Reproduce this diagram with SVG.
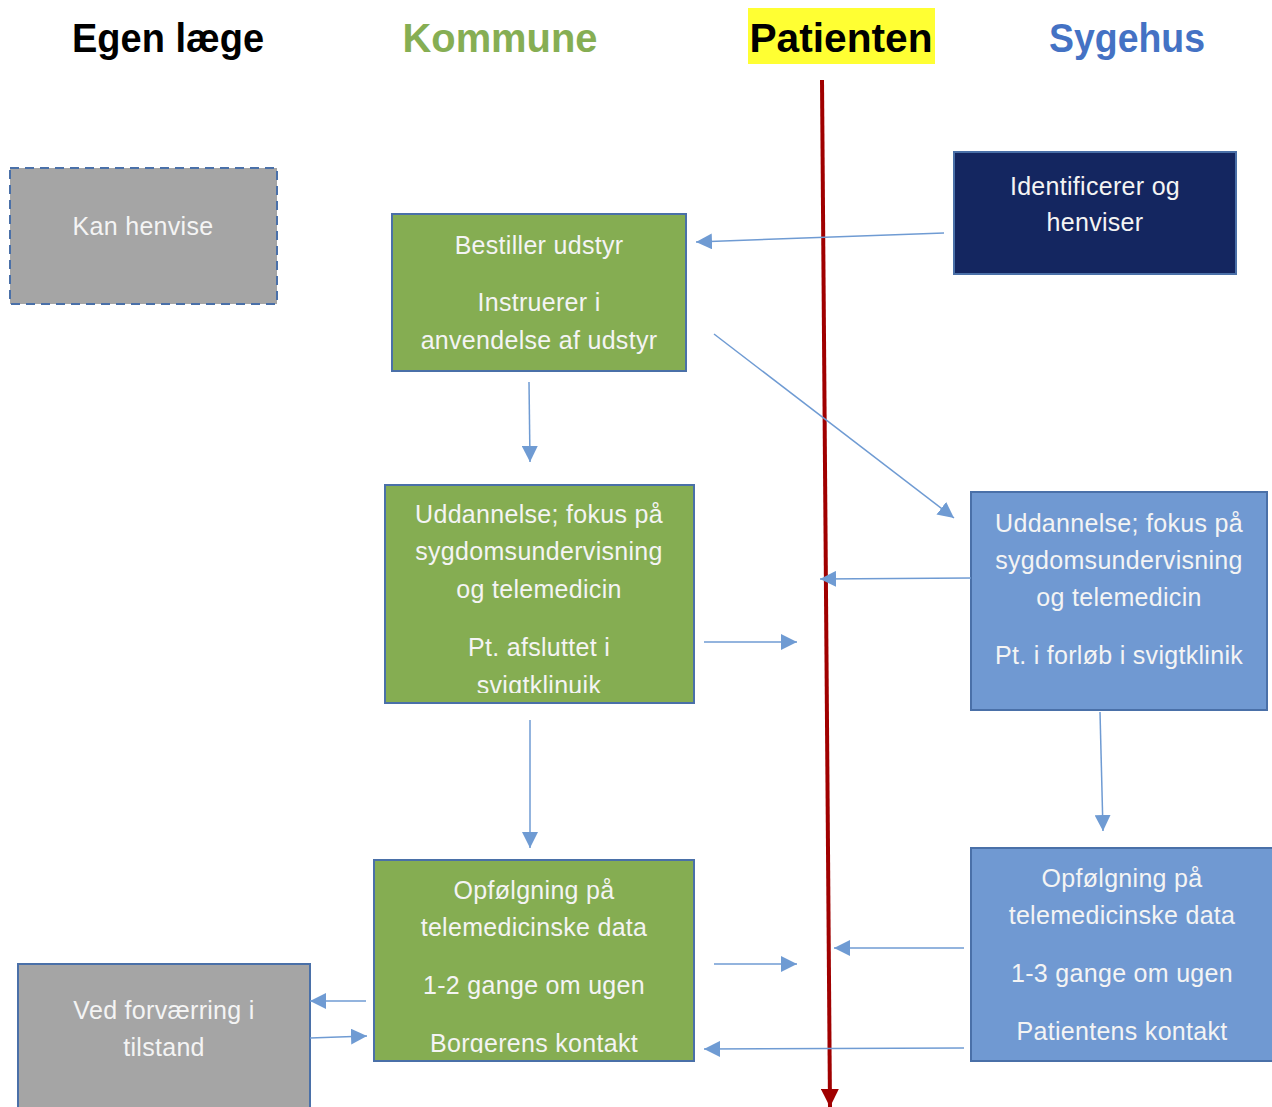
<svg xmlns="http://www.w3.org/2000/svg" width="1272" height="1107" viewBox="0 0 1272 1107">
<style>
.h{font-family:"Liberation Sans",Arial,sans-serif;font-weight:bold;font-size:40px;text-anchor:middle}
.t{font-family:"Liberation Sans",Arial,sans-serif;font-size:25px;letter-spacing:0.3px;fill:#F4F4F4;text-anchor:middle}
.g{fill:#85AD52;stroke:#4A70A8;stroke-width:2}
.b{fill:#7099D2;stroke:#4A70A8;stroke-width:2}
.n{fill:#142660;stroke:#4A70A8;stroke-width:2}
.gr{fill:#A5A5A5;stroke:#4A70A8;stroke-width:2}
.c{stroke:#6F9BD3;stroke-width:1.5;fill:none;marker-end:url(#ah)}
</style>
<defs>
<marker id="ah" markerUnits="userSpaceOnUse" markerWidth="18" markerHeight="16" refX="16" refY="8" orient="auto">
<path d="M0,0 L16,8 L0,16 Z" fill="#6F9BD3"/>
</marker>
<marker id="rh" markerUnits="userSpaceOnUse" markerWidth="20" markerHeight="18" refX="18" refY="9" orient="auto">
<path d="M0,0 L18,9 L0,18 Z" fill="#A00000"/>
</marker>
<clipPath id="c4"><rect x="386" y="486" width="307" height="207"/></clipPath>
<clipPath id="c6"><rect x="375" y="861" width="318" height="192"/></clipPath>
</defs>
<rect width="1272" height="1107" fill="#fff"/>
<g id="headers">
<text class="h" x="168" y="52" fill="#000" textLength="192" lengthAdjust="spacingAndGlyphs">Egen læge</text>
<text class="h" x="500" y="52" fill="#86AE53" textLength="195" lengthAdjust="spacingAndGlyphs">Kommune</text>
<rect x="748" y="8" width="187" height="56" fill="#FFFF33"/>
<text class="h" x="841" y="52" fill="#000" textLength="183" lengthAdjust="spacingAndGlyphs">Patienten</text>
<text class="h" x="1127" y="52" fill="#4472C4" textLength="156" lengthAdjust="spacingAndGlyphs">Sygehus</text>
</g>
<g id="timeline">
<line x1="822" y1="80" x2="830" y2="1107" stroke="#A00000" stroke-width="4" marker-end="url(#rh)"/>
</g>
<g id="n1">
<rect class="gr" x="10" y="168" width="267" height="136" stroke-dasharray="9,6"/>
<text class="t" x="143" y="235">Kan henvise</text>
</g>
<g id="n2">
<rect class="g" x="392" y="214" width="294" height="157"/>
<text class="t" x="539" y="254">Bestiller udstyr</text>
<text class="t" x="539" y="311">Instruerer i</text>
<text class="t" x="539" y="349">anvendelse af udstyr</text>
</g>
<g id="n3">
<rect class="n" x="954" y="152" width="282" height="122"/>
<text class="t" x="1095" y="195">Identificerer og</text>
<text class="t" x="1095" y="231">henviser</text>
</g>
<g id="n4">
<rect class="g" x="385" y="485" width="309" height="218"/>
<g clip-path="url(#c4)">
<text class="t" x="539" y="523">Uddannelse; fokus på</text>
<text class="t" x="539" y="560">sygdomsundervisning</text>
<text class="t" x="539" y="598">og telemedicin</text>
<text class="t" x="539" y="656">Pt. afsluttet i</text>
<text class="t" x="539" y="694">svigtklinuik</text>
</g>
</g>
<g id="n5">
<rect class="b" x="971" y="492" width="296" height="218"/>
<text class="t" x="1119" y="532">Uddannelse; fokus på</text>
<text class="t" x="1119" y="569">sygdomsundervisning</text>
<text class="t" x="1119" y="606">og telemedicin</text>
<text class="t" x="1119" y="664">Pt. i forløb i svigtklinik</text>
</g>
<g id="n6">
<rect class="g" x="374" y="860" width="320" height="201"/>
<g clip-path="url(#c6)">
<text class="t" x="534" y="899">Opfølgning på</text>
<text class="t" x="534" y="936">telemedicinske data</text>
<text class="t" x="534" y="994">1-2 gange om ugen</text>
<text class="t" x="534" y="1052">Borgerens kontakt</text>
</g>
</g>
<g id="n7">
<rect class="b" x="971" y="848" width="303" height="213"/>
<text class="t" x="1122" y="887">Opfølgning på</text>
<text class="t" x="1122" y="924">telemedicinske data</text>
<text class="t" x="1122" y="982">1-3 gange om ugen</text>
<text class="t" x="1122" y="1040">Patientens kontakt</text>
</g>
<g id="n8">
<rect class="gr" x="18" y="964" width="292" height="150"/>
<text class="t" x="164" y="1019">Ved forværring i</text>
<text class="t" x="164" y="1056">tilstand</text>
</g>
<g id="connectors">
<line class="c" x1="944" y1="233" x2="696" y2="242"/>
<line class="c" x1="714" y1="334" x2="954" y2="518"/>
<line class="c" x1="529" y1="382" x2="530" y2="462"/>
<line class="c" x1="971" y1="578" x2="820" y2="579"/>
<line class="c" x1="704" y1="642" x2="797" y2="642"/>
<line class="c" x1="530" y1="720" x2="530" y2="848"/>
<line class="c" x1="1100" y1="712" x2="1103" y2="831"/>
<line class="c" x1="714" y1="964" x2="797" y2="964"/>
<line class="c" x1="964" y1="948" x2="834" y2="948"/>
<line class="c" x1="964" y1="1048" x2="704" y2="1049"/>
<line class="c" x1="366" y1="1001" x2="310" y2="1001"/>
<line class="c" x1="310" y1="1038" x2="367" y2="1036"/>
</g>
</svg>
